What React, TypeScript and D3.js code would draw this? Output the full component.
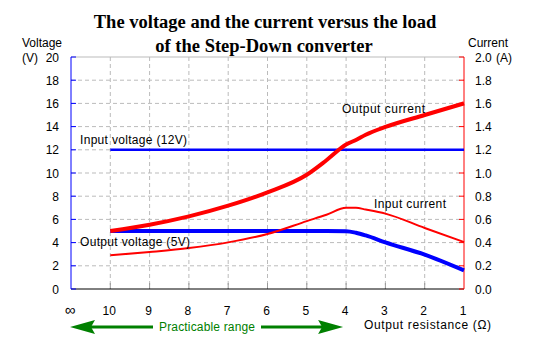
import React from "react";
import * as d3 from "d3";

const xLabels = ["∞", "10", "9", "8", "7", "6", "5", "4", "3", "2", "1"];
const voltTicks = [0, 2, 4, 6, 8, 10, 12, 14, 16, 18, 20];
const currTicks = [0, 0.2, 0.4, 0.6, 0.8, 1.0, 1.2, 1.4, 1.6, 1.8, 2.0];

// positions along the resistance axis (slot index: 0 = ∞, 1 = 10Ω ... 10 = 1Ω)
const slots = [1, 2, 3, 4, 5, 6, 6.5, 7, 7.25, 7.5, 8, 9, 10];
const outputCurrent = [0.5, 0.554, 0.626, 0.718, 0.833, 0.985, 1.11, 1.245, 1.285, 1.33, 1.397, 1.5, 1.6];
const inputCurrent = [0.29, 0.319, 0.353, 0.402, 0.474, 0.585, 0.64, 0.7, 0.7, 0.685, 0.65, 0.526, 0.405];
const outputVoltage = [5, 5, 5, 5, 5, 5, 5, 4.98, 4.85, 4.62, 4.02, 2.96, 1.6];
const inputVoltageSlots = [1, 10];
const inputVoltage = [12, 12];

const W = 537;
const H = 346;
const L = 71;
const R = 464;
const T = 57;
const B = 289;

export default function App() {
  const x = d3.scaleLinear().domain([0, 10]).range([L, R]);
  const yV = d3.scaleLinear().domain([0, 20]).range([B, T]);
  const yI = d3.scaleLinear().domain([0, 2]).range([B, T]);

  const lineV = d3
    .line<[number, number]>()
    .x((d) => x(d[0]))
    .y((d) => yV(d[1]))
    .curve(d3.curveMonotoneX);
  const lineI = d3
    .line<[number, number]>()
    .x((d) => x(d[0]))
    .y((d) => yI(d[1]))
    .curve(d3.curveMonotoneX);

  const zip = (xs: number[], ys: number[]) => xs.map((v, i) => [v, ys[i]] as [number, number]);

  const font = "'Liberation Sans', Arial, sans-serif";
  const green = "#008000";
  const arrowY = 327;

  return (
    <svg width={W} height={H} style={{ position: "absolute", left: 0, top: 0, background: "#fff" }}>
      <rect x={0} y={0} width={W} height={H} fill="#fff" />
      {/* title */}
      <text x={265} y={28} textAnchor="middle" fontFamily="'Liberation Serif', 'Times New Roman', serif" fontWeight="bold" fontSize={18.5}>
        The voltage and the current versus the load
      </text>
      <text x={264} y={52} textAnchor="middle" fontFamily="'Liberation Serif', 'Times New Roman', serif" fontWeight="bold" fontSize={18.5}>
        of the Step-Down converter
      </text>

      {/* grid */}
      {voltTicks.slice(1, -1).map((t) => (
        <line key={"h" + t} x1={L} x2={R} y1={yV(t)} y2={yV(t)} stroke="#bbb" strokeDasharray="4,3" />
      ))}
      <line x1={L} x2={R} y1={T} y2={T} stroke="#bbb" />
      {xLabels.slice(1, -1).map((_, i) => (
        <line key={"v" + i} x1={x(i + 1)} x2={x(i + 1)} y1={T} y2={B} stroke="#bbb" strokeDasharray="4,3" />
      ))}
      {xLabels.slice(1, -1).map((_, i) => (
        <line key={"bt" + i} x1={x(i + 1)} x2={x(i + 1)} y1={B} y2={B - 6} stroke="#999" />
      ))}

      {/* axes */}
      <line x1={L} x2={R} y1={B} y2={B} stroke="#000" />
      <line x1={L} x2={L} y1={T} y2={B} stroke="#0000ff" />
      <line x1={R} x2={R} y1={T} y2={B} stroke="#ff0000" />
      {voltTicks.map((t) => (
        <line key={"lt" + t} x1={L} x2={L + 5} y1={yV(t)} y2={yV(t)} stroke="#0000ff" />
      ))}
      {currTicks.map((t) => (
        <line key={"rt" + t} x1={R} x2={R - 5} y1={yI(t)} y2={yI(t)} stroke="#ff0000" />
      ))}

      {/* axis labels */}
      {voltTicks.map((t) => (
        <text key={"ll" + t} x={59} y={yV(t) + 4.5} textAnchor="end" fontFamily={font} fontSize={12}>
          {t}
        </text>
      ))}
      {currTicks.map((t) => (
        <text key={"rl" + t} x={475} y={yI(t) + 4.5} fontFamily={font} fontSize={12}>
          {t.toFixed(1)}
        </text>
      ))}
      <text x={22} y={47} fontFamily={font} fontSize={12}>Voltage</text>
      <text x={22} y={62} fontFamily={font} fontSize={12}>(V)</text>
      <text x={468} y={47} fontFamily={font} fontSize={12}>Current</text>
      <text x={496} y={62} fontFamily={font} fontSize={12}>(A)</text>
      {xLabels.map((l, i) => (
        <text key={"xl" + i} x={x(i) - 1} y={315} textAnchor="middle" fontFamily={font} fontSize={i === 0 ? 15 : 12}>
          {l}
        </text>
      ))}
      <text x={364} y={329} fontFamily={font} fontSize={12} textLength={127} lengthAdjust="spacing">Output resistance (Ω)</text>

      {/* practicable range arrow */}
      <line x1={x(0) + 20} x2={153} y1={arrowY} y2={arrowY} stroke={green} strokeWidth={3} />
      <line x1={261} x2={x(7) - 22} y1={arrowY} y2={arrowY} stroke={green} strokeWidth={3} />
      <path d={`M${x(0) - 1},${arrowY} L${x(0) + 24},${arrowY - 7} L${x(0) + 20},${arrowY} L${x(0) + 24},${arrowY + 7} Z`} fill={green} />
      <path d={`M${x(7) - 3},${arrowY} L${x(7) - 28},${arrowY - 7} L${x(7) - 24},${arrowY} L${x(7) - 28},${arrowY + 7} Z`} fill={green} />
      <text x={207} y={331} textAnchor="middle" fontFamily={font} fontSize={12} fill={green} textLength={96} lengthAdjust="spacing">
        Practicable range
      </text>

      {/* series */}
      <path d={lineV(zip(inputVoltageSlots, inputVoltage)) || ""} fill="none" stroke="#0000ff" strokeWidth={2.5} />
      <path d={lineV(zip(slots, outputVoltage)) || ""} fill="none" stroke="#0000ff" strokeWidth={4} />
      <path d={lineI(zip(slots, inputCurrent)) || ""} fill="none" stroke="#ff0000" strokeWidth={2} />
      <path d={lineI(zip(slots, outputCurrent)) || ""} fill="none" stroke="#ff0000" strokeWidth={4} />

      {/* series labels */}
      <text x={80} y={144} fontFamily={font} fontSize={12} textLength={107} lengthAdjust="spacing">Input voltage (12V)</text>
      <text x={80} y={246} fontFamily={font} fontSize={12} textLength={110} lengthAdjust="spacing">Output voltage (5V)</text>
      <text x={342} y={113} fontFamily={font} fontSize={12} textLength={83} lengthAdjust="spacing">Output current</text>
      <text x={374} y={208} fontFamily={font} fontSize={12} textLength={72} lengthAdjust="spacing">Input current</text>
    </svg>
  );
}
